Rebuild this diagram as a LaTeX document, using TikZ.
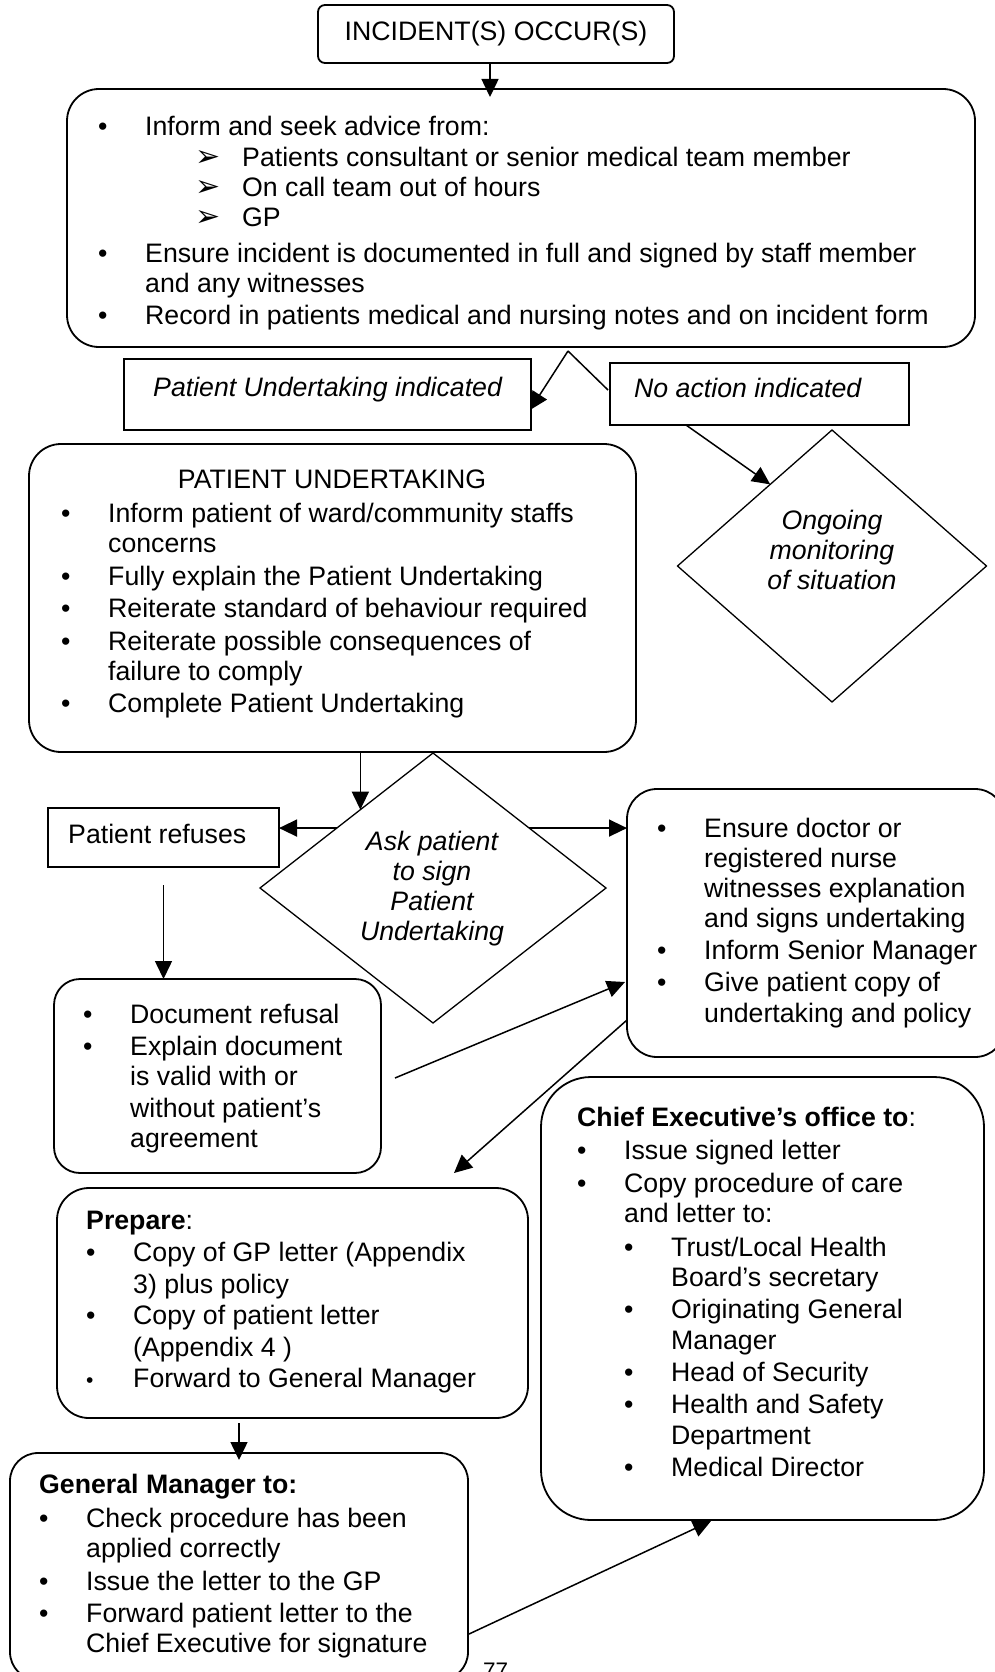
\documentclass[tikz,border=0pt]{standalone}
\usepackage{fontspec}
\setmainfont{Liberation Sans}
\newfontfamily\arrowfont{DejaVu Sans}
\usetikzlibrary{arrows.meta, shapes.geometric, calc}
\newcommand{\bul}{\makebox[47pt][l]{\textbullet}}
\newcommand{\smallbul}{\makebox[47pt][l]{\fontsize{21}{21}\selectfont\textbullet}}
\newcommand{\nb}{\hspace*{47pt}}
\newcommand{\subarr}{\hspace*{50pt}\makebox[47pt][l]{\arrowfont\fontsize{30}{30}\selectfont ➢}}
\newcommand{\leftstack}[1]{\begin{tabular}[t]{@{}l@{}}#1\end{tabular}}
\newcommand{\midstack}[1]{\begin{tabular}[t]{@{}c@{}}#1\end{tabular}}

\begin{document}
\begin{tikzpicture}[x=1pt, y=-1pt,
  box/.style={draw, line width=1.8pt, inner sep=0pt, outer sep=0pt},
  rbox/.style={box, rounded corners=#1}, rbox/.default=30pt,
  dia/.style={draw, diamond, line width=1.3pt, inner sep=0pt, outer sep=0pt},
  txt/.style={inner sep=0pt, anchor=base west, font=\fontsize{26.7}{30.3}\selectfont},
  ctxt/.style={txt, anchor=base},
  con/.style={line width=1.5pt},
  arr/.style={con, -{Triangle[length=18pt, width=17pt]}}]
\useasboundingbox (0,0) rectangle (995,1672);
\fill[white] (0,0) rectangle (995,1672);

\node[rbox=7pt, minimum width=356pt, minimum height=58pt, font=\fontsize{26.7}{30.3}\selectfont] (incident) at (496,34) {INCIDENT(S) OCCUR(S)};

\node[rbox=32pt, minimum width=908pt, minimum height=258pt] (inform) at (521,218) {};
\node[txt] (informtxt) at (98,136) {\leftstack{
  \bul Inform and seek advice from:\\
  \nb\subarr Patients consultant or senior medical team member\\
  \nb\subarr On call team out of hours\\
  \nb\subarr GP\\[5pt]
  \bul Ensure incident is documented in full and signed by staff member\\
  \nb and any witnesses\\[1.5pt]
  \bul Record in patients medical and nursing notes and on incident form}};

\node[box, minimum width=407pt, minimum height=71pt] (pui) at (327.5,394.5) {};
\node[txt] (puitxt) at (153,396) {\textit{Patient Undertaking indicated}};

\node[box, minimum width=299pt, minimum height=62pt] (noact) at (759.5,394) {};
\node[txt] (noacttxt) at (634,397) {\textit{No action indicated}};

\node[dia, minimum width=309pt, minimum height=272pt] (ongoing) at (832,566) {};
\node[ctxt] (ongoingtxt) at (832,529) {\itshape\midstack{Ongoing\\monitoring\\of situation}};

\node[rbox=32pt, minimum width=607pt, minimum height=308pt] (undertaking) at (332.5,598) {};
\node[ctxt] (undertitle) at (332,488) {PATIENT UNDERTAKING};
\node[txt] (undertxt) at (61,522) {\leftstack{
  \bul Inform patient of ward/community staffs\\
  \nb concerns\\[2.7pt]
  \bul Fully explain the Patient Undertaking\\[1.7pt]
  \bul Reiterate standard of behaviour required\\[2.7pt]
  \bul Reiterate possible consequences of\\
  \nb failure to comply\\[1.7pt]
  \bul Complete Patient Undertaking}};

\node[dia, minimum width=346pt, minimum height=270pt] (ask) at (433,888) {};
\node[ctxt] (asktxt) at (432,850) {\itshape\midstack{Ask patient\\to sign\\Patient\\Undertaking}};

\node[box, minimum width=231pt, minimum height=59pt] (refuses) at (163.5,837.5) {};
\node[txt] (refusestxt) at (68,843) {Patient refuses};

\node[rbox=30pt, minimum width=378pt, minimum height=268pt] (ensure) at (816,923) {};
\node[txt] (ensuretxt) at (657,837) {\leftstack{
  \bul Ensure doctor or\\
  \nb registered nurse\\
  \nb witnesses explanation\\
  \nb and signs undertaking\\[1.7pt]
  \bul Inform Senior Manager\\[1.7pt]
  \bul Give patient copy of\\
  \nb undertaking and policy}};

\node[rbox=26pt, minimum width=327pt, minimum height=194pt] (docref) at (217.5,1076) {};
\node[txt] (doctxt) at (83,1023) {\leftstack{
  \bul Document refusal\\[1.7pt]
  \bul Explain document\\
  \nb is valid with or\\[1.5pt]
  \nb without patient’s\\
  \nb agreement}};

\node[rbox=50pt, minimum width=443pt, minimum height=443pt] (chief) at (762.5,1298.5) {};
\node[txt] (chieftxt) at (577,1126) {\leftstack{
  \textbf{Chief Executive’s office to}:\\[2.7pt]
  \bul Issue signed letter\\[2.7pt]
  \bul Copy procedure of care\\
  \nb and letter to:\\[3.7pt]
  \nb\bul Trust/Local Health\\
  \nb\nb Board’s secretary\\[2pt]
  \nb\bul Originating General\\
  \nb\nb Manager\\[2pt]
  \nb\bul Head of Security\\[2pt]
  \nb\bul Health and Safety\\
  \nb\nb Department\\[2pt]
  \nb\bul Medical Director}};

\node[rbox=32pt, minimum width=471pt, minimum height=230pt] (prepare) at (292.5,1303) {};
\node[txt] (preptxt) at (86,1229) {\leftstack{
  \textbf{Prepare}:\\[2pt]
  \bul Copy of GP letter (Appendix\\[1.5pt]
  \nb 3) plus policy\\[1.5pt]
  \bul Copy of patient letter\\[1.5pt]
  \nb (Appendix 4 )\\
  \smallbul Forward to General Manager}};

\node[rbox=28pt, minimum width=458pt, minimum height=227pt] (gm) at (239,1566.5) {};
\node[txt] (gmtxt) at (39,1493) {\leftstack{
  \textbf{General Manager to:}\\[3.7pt]
  \bul Check procedure has been\\
  \nb applied correctly\\[2.5pt]
  \bul Issue the letter to the GP\\[2pt]
  \bul Forward patient letter to the\\
  \nb Chief Executive for signature}};

\node[txt, font=\fontsize{22.5}{26}\selectfont] (pagenum) at (483,1678) {77};

\draw[arr] ($(incident.south)+(-6,0)$) -- ($(incident.south |- inform.north)+(-6,8)$);
\coordinate (fork) at ($(inform.south)+(47,4)$);
\draw[arr] (fork) -- ($(pui.east)+(-1,15.5)$);
\draw[con] (fork) -- ($(noact.west)+(-2,-4)$);
\draw[arr] ($(noact.south)+(-73.5,0)$) -- ($(ongoing.north)!0.4!(ongoing.west)$);
\coordinate (askn) at ($(ask.north)!0.42!(ask.west)$);
\draw[arr] (undertaking.south -| askn) -- (askn);
\coordinate (askl) at ($(ask.north)!0.556!(ask.west)$);
\coordinate (askr) at ($(ask.north)!0.556!(ask.east)$);
\draw[arr] (askl) -- (askl -| refuses.east);
\draw[arr] (askr) -- (askr -| ensure.west);
\draw[arr] ($(refuses.south)+(0,18)$) -- (refuses.south |- docref.north);
\draw[arr] ($(docref.east)+(14,2)$) -- ($(ensure.west)+(-2,59)$);
\draw[arr] ($(ensure.west)+(0,97)$) -- ($(prepare.north)+(161.5,-15)$);
\draw[arr] ($(prepare.south -| gm.north)+(0,5)$) -- ($(gm.north)+(0,7)$);
\draw[arr] ($(gm.east)+(1,67.5)$) -- ($(chief.south)+(-51.5,1)$);
\end{tikzpicture}
\end{document}
